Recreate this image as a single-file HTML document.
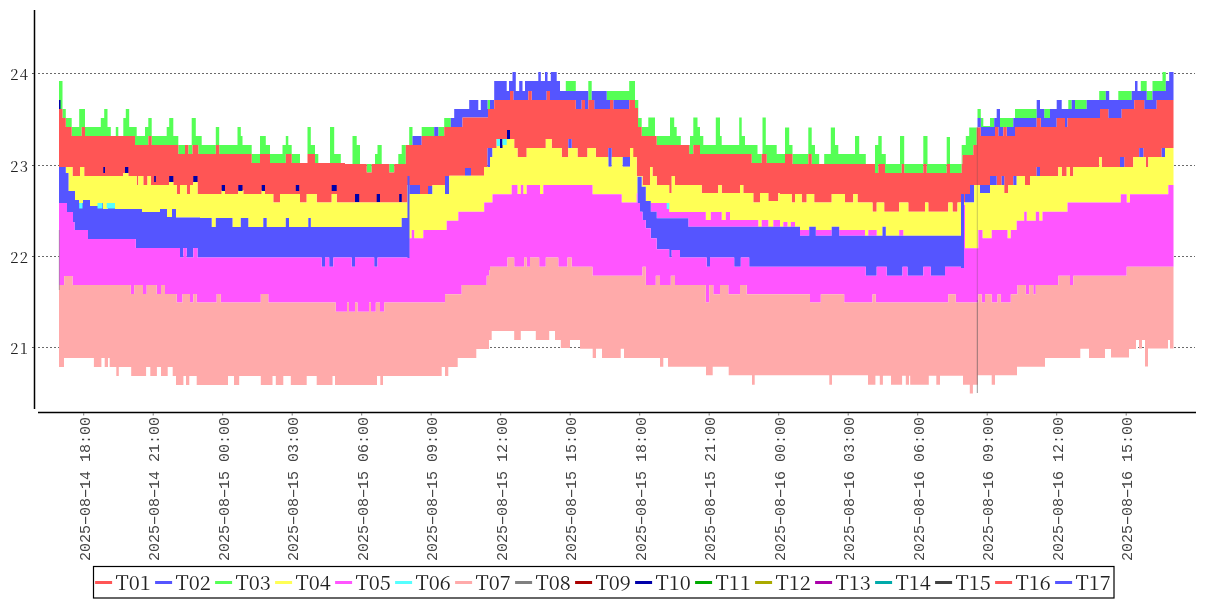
<!DOCTYPE html>
<html><head><meta charset="utf-8"><title>Temperature chart</title>
<style>
html,body{margin:0;padding:0;background:#fff;width:1207px;height:600px;overflow:hidden}
svg{position:absolute;left:0;top:0;display:block}
.yl{font-family:"Noto Serif CJK SC","Liberation Serif",serif;font-size:15px;letter-spacing:1.2px;fill:#222}
.xl{font-family:"Liberation Mono",monospace;font-size:15px;fill:#333}
.xh{position:absolute;transform-origin:0 0;transform:rotate(-90deg);font-family:"Liberation Mono",monospace;font-size:15px;line-height:15px;white-space:nowrap;color:#444}
.dd{display:inline-block;transform:scaleX(1.8)}
.lg{font-family:"Noto Serif CJK SC","Liberation Serif",serif;font-size:20px;fill:#222}
</style></head><body>
<svg width="1207" height="600" viewBox="0 0 1207 600">

<line x1="38" y1="73.5" x2="1195" y2="73.5" stroke="#6a6a6a" stroke-width="1" stroke-dasharray="2 2"/>
<line x1="38" y1="165.5" x2="1195" y2="165.5" stroke="#6a6a6a" stroke-width="1" stroke-dasharray="2 2"/>
<line x1="38" y1="256.5" x2="1195" y2="256.5" stroke="#6a6a6a" stroke-width="1" stroke-dasharray="2 2"/>
<line x1="38" y1="347.5" x2="1195" y2="347.5" stroke="#6a6a6a" stroke-width="1" stroke-dasharray="2 2"/>
<path d="M59.0,81.0 L62.5,81.0 L62.5,109.0 L65.8,109.0 L65.8,118.0 L71.7,118.0 L71.7,127.0 L79.2,127.0 L79.2,109.0 L85.0,109.0 L85.0,127.0 L100.8,127.0 L100.8,118.0 L104.2,118.0 L104.2,109.0 L107.5,109.0 L107.5,127.0 L110.8,127.0 L110.8,136.0 L115.8,136.0 L115.8,127.0 L118.3,127.0 L118.3,136.0 L123.3,136.0 L123.3,118.0 L125.8,118.0 L125.8,109.0 L129.2,109.0 L129.2,127.0 L136.7,127.0 L136.7,136.0 L145.0,136.0 L145.0,127.0 L148.3,127.0 L148.3,118.0 L151.7,118.0 L151.7,136.0 L166.7,136.0 L166.7,127.0 L169.2,127.0 L169.2,118.0 L173.3,118.0 L173.3,136.0 L178.3,136.0 L178.3,145.0 L191.7,145.0 L191.7,118.0 L195.8,118.0 L195.8,136.0 L201.7,136.0 L201.7,145.0 L215.8,145.0 L215.8,127.0 L219.2,127.0 L219.2,145.0 L237.5,145.0 L237.5,127.0 L240.8,127.0 L240.8,136.0 L242.5,136.0 L242.5,145.0 L251.7,145.0 L251.7,154.0 L260.0,154.0 L260.0,136.0 L265.8,136.0 L265.8,145.0 L270.0,145.0 L270.0,154.0 L282.5,154.0 L282.5,145.0 L285.8,145.0 L285.8,136.0 L288.3,136.0 L288.3,145.0 L291.7,145.0 L291.7,154.0 L300.0,154.0 L300.0,163.0 L307.5,163.0 L307.5,127.0 L310.8,127.0 L310.8,145.0 L315.0,145.0 L315.0,154.0 L318.3,154.0 L318.3,163.0 L330.0,163.0 L330.0,127.0 L334.2,127.0 L334.2,154.0 L340.8,154.0 L340.8,163.0 L345.0,163.0 L345.0,164.0 L352.5,164.0 L352.5,136.0 L356.7,136.0 L356.7,145.0 L360.0,145.0 L360.0,164.0 L375.0,164.0 L375.0,154.0 L377.5,154.0 L377.5,145.0 L381.7,145.0 L381.7,164.0 L398.3,164.0 L398.3,154.0 L401.7,154.0 L401.7,145.0 L409.2,145.0 L409.2,127.0 L412.5,127.0 L412.5,136.0 L421.7,136.0 L421.7,127.0 L444.2,127.0 L444.2,118.0 L454.2,118.0 L454.2,109.0 L469.2,109.0 L469.2,100.0 L478.3,100.0 L478.3,110.0 L480.8,110.0 L480.8,100.0 L494.2,100.0 L494.2,81.0 L506.7,81.0 L506.7,91.0 L509.0,91.0 L509.0,81.0 L512.5,81.0 L512.5,72.0 L515.8,72.0 L515.8,91.0 L519.2,91.0 L519.2,81.0 L522.5,81.0 L522.5,91.0 L525.0,91.0 L525.0,81.0 L538.3,81.0 L538.3,72.0 L540.8,72.0 L540.8,81.0 L545.0,81.0 L545.0,72.0 L547.5,72.0 L547.5,81.0 L550.8,81.0 L550.8,72.0 L556.7,72.0 L556.7,81.0 L560.0,81.0 L560.0,91.0 L565.8,91.0 L565.8,81.0 L575.8,81.0 L575.8,91.0 L588.3,91.0 L588.3,81.0 L591.7,81.0 L591.7,91.0 L629.2,91.0 L629.2,81.0 L635.0,81.0 L635.0,100.0 L638.3,100.0 L638.3,118.0 L641.7,118.0 L641.7,127.0 L648.3,127.0 L648.3,117.5 L655.0,117.5 L655.0,136.0 L670.0,136.0 L670.0,117.5 L674.2,117.5 L674.2,127.0 L676.7,127.0 L676.7,136.0 L680.8,136.0 L680.8,145.0 L690.0,145.0 L690.0,136.0 L693.3,136.0 L693.3,117.5 L697.5,117.5 L697.5,127.0 L700.0,127.0 L700.0,136.0 L703.3,136.0 L703.3,145.0 L715.8,145.0 L715.8,117.5 L720.0,117.5 L720.0,136.0 L721.7,136.0 L721.7,145.0 L739.2,145.0 L739.2,117.5 L741.7,117.5 L741.7,136.0 L745.0,136.0 L745.0,145.0 L757.5,145.0 L757.5,154.0 L762.5,154.0 L762.5,117.5 L765.8,117.5 L765.8,145.0 L776.7,145.0 L776.7,154.0 L785.0,154.0 L785.0,127.5 L789.2,127.5 L789.2,145.0 L792.5,145.0 L792.5,154.0 L808.3,154.0 L808.3,127.5 L811.7,127.5 L811.7,145.0 L815.0,145.0 L815.0,154.0 L819.2,154.0 L819.2,164.0 L824.2,164.0 L824.2,154.0 L830.8,154.0 L830.8,127.5 L835.0,127.5 L835.0,145.0 L838.3,145.0 L838.3,154.0 L855.0,154.0 L855.0,136.0 L859.2,136.0 L859.2,154.0 L865.8,154.0 L865.8,164.0 L875.0,164.0 L875.0,145.0 L878.3,145.0 L878.3,136.0 L881.7,136.0 L881.7,154.0 L885.8,154.0 L885.8,164.0 L900.0,164.0 L900.0,136.0 L904.2,136.0 L904.2,164.0 L923.3,164.0 L923.3,136.0 L927.5,136.0 L927.5,164.0 L946.7,164.0 L946.7,137.0 L950.0,137.0 L950.0,164.0 L961.7,164.0 L961.7,145.0 L965.8,145.0 L965.8,136.0 L969.2,136.0 L969.2,127.5 L977.5,127.5 L977.5,109.0 L980.8,109.0 L980.8,118.0 L983.3,118.0 L983.3,126.0 L990.0,126.0 L990.0,118.0 L996.7,118.0 L996.7,109.0 L1000.0,109.0 L1000.0,118.0 L1015.0,118.0 L1015.0,109.0 L1036.7,109.0 L1036.7,100.0 L1040.0,100.0 L1040.0,109.0 L1056.7,109.0 L1056.7,100.0 L1061.7,100.0 L1061.7,109.0 L1068.3,109.0 L1068.3,100.0 L1099.2,100.0 L1099.2,91.0 L1109.2,91.0 L1109.2,100.0 L1118.3,100.0 L1118.3,91.0 L1135.0,91.0 L1135.0,81.0 L1137.5,81.0 L1137.5,91.0 L1140.8,91.0 L1140.8,81.0 L1146.7,81.0 L1146.7,91.0 L1152.5,91.0 L1152.5,81.0 L1162.5,81.0 L1162.5,72.0 L1165.8,72.0 L1165.8,81.0 L1169.2,81.0 L1169.2,72.0 L1173.5,72.0 L1173.5,72.0 L1169.2,72.0 L1169.2,81.0 L1165.8,81.0 L1165.8,91.0 L1152.5,91.0 L1152.5,100.0 L1146.7,100.0 L1146.7,91.0 L1137.5,91.0 L1137.5,81.0 L1135.0,81.0 L1135.0,91.0 L1131.7,91.0 L1131.7,100.0 L1109.2,100.0 L1109.2,91.0 L1105.8,91.0 L1105.8,100.0 L1086.7,100.0 L1086.7,109.0 L1075.0,109.0 L1075.0,100.0 L1071.7,100.0 L1071.7,109.0 L1061.7,109.0 L1061.7,100.0 L1056.7,100.0 L1056.7,109.0 L1050.0,109.0 L1050.0,118.0 L1044.2,118.0 L1044.2,109.0 L1040.0,109.0 L1040.0,100.0 L1036.7,100.0 L1036.7,118.0 L1013.3,118.0 L1013.3,127.0 L1000.0,127.0 L1000.0,109.0 L996.7,109.0 L996.7,118.0 L994.2,118.0 L994.2,127.0 L980.8,127.0 L980.8,118.0 L977.5,118.0 L977.5,127.5 L976.7,127.5 L976.7,145.0 L973.3,145.0 L973.3,155.0 L962.5,155.0 L962.5,164.0 L961.7,164.0 L961.7,173.0 L950.0,173.0 L950.0,164.0 L946.7,164.0 L946.7,173.0 L926.7,173.0 L926.7,164.0 L923.3,164.0 L923.3,173.0 L904.2,173.0 L904.2,164.0 L901.7,164.0 L901.7,173.0 L885.0,173.0 L885.0,164.0 L878.3,164.0 L878.3,173.0 L875.0,173.0 L875.0,164.0 L811.7,164.0 L811.7,154.0 L808.3,154.0 L808.3,164.0 L792.5,164.0 L792.5,154.0 L785.0,154.0 L785.0,163.0 L766.7,163.0 L766.7,154.0 L761.7,154.0 L761.7,163.0 L751.7,163.0 L751.7,154.0 L700.0,154.0 L700.0,145.0 L693.3,145.0 L693.3,154.0 L689.2,154.0 L689.2,145.0 L656.7,145.0 L656.7,136.0 L641.7,136.0 L641.7,127.0 L638.0,127.0 L638.0,108.0 L635.0,108.0 L635.0,100.0 L606.7,100.0 L606.7,91.0 L591.7,91.0 L591.7,100.0 L588.3,100.0 L588.3,91.0 L560.0,91.0 L560.0,81.0 L556.7,81.0 L556.7,72.0 L550.8,72.0 L550.8,81.0 L547.5,81.0 L547.5,72.0 L545.0,72.0 L545.0,81.0 L540.8,81.0 L540.8,72.0 L538.3,72.0 L538.3,81.0 L525.0,81.0 L525.0,91.0 L522.5,91.0 L522.5,81.0 L519.2,81.0 L519.2,91.0 L515.8,91.0 L515.8,72.0 L512.5,72.0 L512.5,81.0 L509.0,81.0 L509.0,91.0 L506.7,91.0 L506.7,81.0 L494.2,81.0 L494.2,100.0 L490.0,100.0 L490.0,109.0 L487.5,109.0 L487.5,100.0 L480.8,100.0 L480.8,110.0 L478.3,110.0 L478.3,100.0 L469.2,100.0 L469.2,109.0 L454.2,109.0 L454.2,118.0 L450.8,118.0 L450.8,127.0 L444.2,127.0 L444.2,136.0 L438.3,136.0 L438.3,127.0 L434.2,127.0 L434.2,136.0 L412.5,136.0 L412.5,145.0 L405.8,145.0 L405.8,164.0 L394.2,164.0 L394.2,172.5 L389.2,172.5 L389.2,164.0 L371.7,164.0 L371.7,172.5 L366.7,172.5 L366.7,164.0 L345.0,164.0 L345.0,163.0 L315.0,163.0 L315.0,154.0 L307.5,154.0 L307.5,163.0 L291.7,163.0 L291.7,154.0 L285.8,154.0 L285.8,163.0 L270.0,163.0 L270.0,154.0 L260.0,154.0 L260.0,163.0 L251.7,163.0 L251.7,154.0 L219.2,154.0 L219.2,145.0 L215.8,145.0 L215.8,154.0 L198.3,154.0 L198.3,145.0 L192.5,145.0 L192.5,154.0 L188.3,154.0 L188.3,145.0 L185.0,145.0 L185.0,154.0 L178.3,154.0 L178.3,145.0 L151.7,145.0 L151.7,136.0 L148.3,136.0 L148.3,145.0 L135.0,145.0 L135.0,136.0 L85.0,136.0 L85.0,127.0 L81.7,127.0 L81.7,136.0 L71.7,136.0 L71.7,127.0 L65.8,127.0 L65.8,118.0 L62.5,118.0 L62.5,109.0 L59.0,109.0Z" fill="#55FF55"/>
<path d="M59.0,109.0 L62.5,109.0 L62.5,118.0 L65.8,118.0 L65.8,127.0 L71.7,127.0 L71.7,136.0 L81.7,136.0 L81.7,127.0 L85.0,127.0 L85.0,136.0 L135.0,136.0 L135.0,145.0 L148.3,145.0 L148.3,136.0 L151.7,136.0 L151.7,145.0 L178.3,145.0 L178.3,154.0 L185.0,154.0 L185.0,145.0 L188.3,145.0 L188.3,154.0 L192.5,154.0 L192.5,145.0 L198.3,145.0 L198.3,154.0 L215.8,154.0 L215.8,145.0 L219.2,145.0 L219.2,154.0 L251.7,154.0 L251.7,163.0 L260.0,163.0 L260.0,154.0 L270.0,154.0 L270.0,163.0 L285.8,163.0 L285.8,154.0 L291.7,154.0 L291.7,163.0 L307.5,163.0 L307.5,154.0 L315.0,154.0 L315.0,163.0 L345.0,163.0 L345.0,164.0 L366.7,164.0 L366.7,172.5 L371.7,172.5 L371.7,164.0 L389.2,164.0 L389.2,172.5 L394.2,172.5 L394.2,164.0 L405.8,164.0 L405.8,145.0 L412.5,145.0 L412.5,136.0 L434.2,136.0 L434.2,127.0 L438.3,127.0 L438.3,136.0 L444.2,136.0 L444.2,127.0 L450.8,127.0 L450.8,118.0 L454.2,118.0 L454.2,109.0 L469.2,109.0 L469.2,100.0 L478.3,100.0 L478.3,110.0 L480.8,110.0 L480.8,100.0 L487.5,100.0 L487.5,109.0 L490.0,109.0 L490.0,100.0 L494.2,100.0 L494.2,81.0 L506.7,81.0 L506.7,91.0 L509.0,91.0 L509.0,81.0 L512.5,81.0 L512.5,72.0 L515.8,72.0 L515.8,91.0 L519.2,91.0 L519.2,81.0 L522.5,81.0 L522.5,91.0 L525.0,91.0 L525.0,81.0 L538.3,81.0 L538.3,72.0 L540.8,72.0 L540.8,81.0 L545.0,81.0 L545.0,72.0 L547.5,72.0 L547.5,81.0 L550.8,81.0 L550.8,72.0 L556.7,72.0 L556.7,81.0 L560.0,81.0 L560.0,91.0 L588.3,91.0 L588.3,100.0 L591.7,100.0 L591.7,91.0 L606.7,91.0 L606.7,100.0 L635.0,100.0 L635.0,108.0 L638.0,108.0 L638.0,127.0 L641.7,127.0 L641.7,136.0 L656.7,136.0 L656.7,145.0 L689.2,145.0 L689.2,154.0 L693.3,154.0 L693.3,145.0 L700.0,145.0 L700.0,154.0 L751.7,154.0 L751.7,163.0 L761.7,163.0 L761.7,154.0 L766.7,154.0 L766.7,163.0 L785.0,163.0 L785.0,154.0 L792.5,154.0 L792.5,164.0 L808.3,164.0 L808.3,154.0 L811.7,154.0 L811.7,164.0 L875.0,164.0 L875.0,173.0 L878.3,173.0 L878.3,164.0 L885.0,164.0 L885.0,173.0 L901.7,173.0 L901.7,164.0 L904.2,164.0 L904.2,173.0 L923.3,173.0 L923.3,164.0 L926.7,164.0 L926.7,173.0 L946.7,173.0 L946.7,164.0 L950.0,164.0 L950.0,173.0 L961.7,173.0 L961.7,164.0 L962.5,164.0 L962.5,155.0 L973.3,155.0 L973.3,145.0 L976.7,145.0 L976.7,127.5 L977.5,127.5 L977.5,118.0 L980.8,118.0 L980.8,127.0 L994.2,127.0 L994.2,118.0 L996.7,118.0 L996.7,109.0 L1000.0,109.0 L1000.0,127.0 L1013.3,127.0 L1013.3,118.0 L1036.7,118.0 L1036.7,100.0 L1040.0,100.0 L1040.0,109.0 L1044.2,109.0 L1044.2,118.0 L1050.0,118.0 L1050.0,109.0 L1056.7,109.0 L1056.7,100.0 L1061.7,100.0 L1061.7,109.0 L1071.7,109.0 L1071.7,100.0 L1075.0,100.0 L1075.0,109.0 L1086.7,109.0 L1086.7,100.0 L1105.8,100.0 L1105.8,91.0 L1109.2,91.0 L1109.2,100.0 L1131.7,100.0 L1131.7,91.0 L1135.0,91.0 L1135.0,81.0 L1137.5,81.0 L1137.5,91.0 L1146.7,91.0 L1146.7,100.0 L1152.5,100.0 L1152.5,91.0 L1165.8,91.0 L1165.8,81.0 L1169.2,81.0 L1169.2,72.0 L1173.5,72.0 L1173.5,100.0 L1156.7,100.0 L1156.7,109.0 L1144.2,109.0 L1144.2,100.0 L1134.2,100.0 L1134.2,109.0 L1121.7,109.0 L1121.7,118.0 L1108.3,118.0 L1108.3,109.0 L1100.0,109.0 L1100.0,118.0 L1067.5,118.0 L1067.5,127.0 L1065.0,127.0 L1065.0,118.0 L1056.7,118.0 L1056.7,127.0 L1040.8,127.0 L1040.8,118.0 L1036.7,118.0 L1036.7,127.0 L1015.0,127.0 L1015.0,136.0 L1006.7,136.0 L1006.7,127.0 L1003.3,127.0 L1003.3,136.0 L998.3,136.0 L998.3,127.0 L995.0,127.0 L995.0,136.0 L980.8,136.0 L980.8,127.5 L976.7,127.5 L976.7,145.0 L973.3,145.0 L973.3,155.0 L962.5,155.0 L962.5,164.0 L961.7,164.0 L961.7,173.0 L950.0,173.0 L950.0,164.0 L946.7,164.0 L946.7,173.0 L926.7,173.0 L926.7,164.0 L923.3,164.0 L923.3,173.0 L904.2,173.0 L904.2,164.0 L901.7,164.0 L901.7,173.0 L885.0,173.0 L885.0,164.0 L878.3,164.0 L878.3,173.0 L875.0,173.0 L875.0,164.0 L811.7,164.0 L811.7,154.0 L808.3,154.0 L808.3,164.0 L792.5,164.0 L792.5,154.0 L785.0,154.0 L785.0,163.0 L766.7,163.0 L766.7,154.0 L761.7,154.0 L761.7,163.0 L751.7,163.0 L751.7,154.0 L700.0,154.0 L700.0,145.0 L693.3,145.0 L693.3,154.0 L689.2,154.0 L689.2,145.0 L656.7,145.0 L656.7,136.0 L641.7,136.0 L641.7,127.0 L638.0,127.0 L638.0,108.0 L635.0,108.0 L635.0,100.0 L629.2,100.0 L629.2,109.0 L613.3,109.0 L613.3,100.0 L610.0,100.0 L610.0,109.0 L594.2,109.0 L594.2,100.0 L588.3,100.0 L588.3,109.0 L585.0,109.0 L585.0,100.0 L581.7,100.0 L581.7,109.0 L575.8,109.0 L575.8,100.0 L550.0,100.0 L550.0,91.0 L546.7,91.0 L546.7,100.0 L531.7,100.0 L531.7,91.0 L528.3,91.0 L528.3,100.0 L513.3,100.0 L513.3,91.0 L510.0,91.0 L510.0,100.0 L494.2,100.0 L494.2,109.0 L488.0,109.0 L488.0,117.5 L462.5,117.5 L462.5,127.0 L444.2,127.0 L444.2,136.0 L421.7,136.0 L421.7,145.0 L405.8,145.0 L405.8,164.0 L394.2,164.0 L394.2,172.5 L389.2,172.5 L389.2,164.0 L371.7,164.0 L371.7,172.5 L366.7,172.5 L366.7,164.0 L345.0,164.0 L345.0,163.0 L315.0,163.0 L315.0,154.0 L307.5,154.0 L307.5,163.0 L291.7,163.0 L291.7,154.0 L285.8,154.0 L285.8,163.0 L270.0,163.0 L270.0,154.0 L260.0,154.0 L260.0,163.0 L251.7,163.0 L251.7,154.0 L219.2,154.0 L219.2,145.0 L215.8,145.0 L215.8,154.0 L198.3,154.0 L198.3,145.0 L192.5,145.0 L192.5,154.0 L188.3,154.0 L188.3,145.0 L185.0,145.0 L185.0,154.0 L178.3,154.0 L178.3,145.0 L151.7,145.0 L151.7,136.0 L148.3,136.0 L148.3,145.0 L135.0,145.0 L135.0,136.0 L85.0,136.0 L85.0,127.0 L81.7,127.0 L81.7,136.0 L71.7,136.0 L71.7,127.0 L65.8,127.0 L65.8,118.0 L62.5,118.0 L62.5,109.0 L59.0,109.0Z" fill="#5555FF"/>
<path d="M59.0,109.0 L62.5,109.0 L62.5,118.0 L65.8,118.0 L65.8,127.0 L71.7,127.0 L71.7,136.0 L81.7,136.0 L81.7,127.0 L85.0,127.0 L85.0,136.0 L135.0,136.0 L135.0,145.0 L148.3,145.0 L148.3,136.0 L151.7,136.0 L151.7,145.0 L178.3,145.0 L178.3,154.0 L185.0,154.0 L185.0,145.0 L188.3,145.0 L188.3,154.0 L192.5,154.0 L192.5,145.0 L198.3,145.0 L198.3,154.0 L215.8,154.0 L215.8,145.0 L219.2,145.0 L219.2,154.0 L251.7,154.0 L251.7,163.0 L260.0,163.0 L260.0,154.0 L270.0,154.0 L270.0,163.0 L285.8,163.0 L285.8,154.0 L291.7,154.0 L291.7,163.0 L307.5,163.0 L307.5,154.0 L315.0,154.0 L315.0,163.0 L345.0,163.0 L345.0,164.0 L366.7,164.0 L366.7,172.5 L371.7,172.5 L371.7,164.0 L389.2,164.0 L389.2,172.5 L394.2,172.5 L394.2,164.0 L405.8,164.0 L405.8,145.0 L421.7,145.0 L421.7,136.0 L444.2,136.0 L444.2,127.0 L462.5,127.0 L462.5,117.5 L488.0,117.5 L488.0,109.0 L494.2,109.0 L494.2,100.0 L510.0,100.0 L510.0,91.0 L513.3,91.0 L513.3,100.0 L528.3,100.0 L528.3,91.0 L531.7,91.0 L531.7,100.0 L546.7,100.0 L546.7,91.0 L550.0,91.0 L550.0,100.0 L575.8,100.0 L575.8,109.0 L581.7,109.0 L581.7,100.0 L585.0,100.0 L585.0,109.0 L588.3,109.0 L588.3,100.0 L594.2,100.0 L594.2,109.0 L610.0,109.0 L610.0,100.0 L613.3,100.0 L613.3,109.0 L629.2,109.0 L629.2,100.0 L635.0,100.0 L635.0,108.0 L638.0,108.0 L638.0,127.0 L641.7,127.0 L641.7,136.0 L656.7,136.0 L656.7,145.0 L689.2,145.0 L689.2,154.0 L693.3,154.0 L693.3,145.0 L700.0,145.0 L700.0,154.0 L751.7,154.0 L751.7,163.0 L761.7,163.0 L761.7,154.0 L766.7,154.0 L766.7,163.0 L785.0,163.0 L785.0,154.0 L792.5,154.0 L792.5,164.0 L808.3,164.0 L808.3,154.0 L811.7,154.0 L811.7,164.0 L875.0,164.0 L875.0,173.0 L878.3,173.0 L878.3,164.0 L885.0,164.0 L885.0,173.0 L901.7,173.0 L901.7,164.0 L904.2,164.0 L904.2,173.0 L923.3,173.0 L923.3,164.0 L926.7,164.0 L926.7,173.0 L946.7,173.0 L946.7,164.0 L950.0,164.0 L950.0,173.0 L961.7,173.0 L961.7,164.0 L962.5,164.0 L962.5,155.0 L973.3,155.0 L973.3,145.0 L976.7,145.0 L976.7,127.5 L980.8,127.5 L980.8,136.0 L995.0,136.0 L995.0,127.0 L998.3,127.0 L998.3,136.0 L1003.3,136.0 L1003.3,127.0 L1006.7,127.0 L1006.7,136.0 L1015.0,136.0 L1015.0,127.0 L1036.7,127.0 L1036.7,118.0 L1040.8,118.0 L1040.8,127.0 L1056.7,127.0 L1056.7,118.0 L1065.0,118.0 L1065.0,127.0 L1067.5,127.0 L1067.5,118.0 L1100.0,118.0 L1100.0,109.0 L1108.3,109.0 L1108.3,118.0 L1121.7,118.0 L1121.7,109.0 L1134.2,109.0 L1134.2,100.0 L1144.2,100.0 L1144.2,109.0 L1156.7,109.0 L1156.7,100.0 L1173.5,100.0 L1173.5,148.0 L1161.7,148.0 L1161.7,157.0 L1148.3,157.0 L1148.3,167.0 L1145.8,167.0 L1145.8,157.0 L1143.3,157.0 L1143.3,148.0 L1139.2,148.0 L1139.2,157.0 L1133.3,157.0 L1133.3,167.0 L1124.2,167.0 L1124.2,157.0 L1120.0,157.0 L1120.0,167.0 L1101.7,167.0 L1101.7,157.0 L1099.2,157.0 L1099.2,167.0 L1073.3,167.0 L1073.3,176.0 L1070.0,176.0 L1070.0,167.0 L1066.7,167.0 L1066.7,176.0 L1061.7,176.0 L1061.7,167.0 L1058.3,167.0 L1058.3,176.0 L1040.0,176.0 L1040.0,167.0 L1036.7,167.0 L1036.7,176.0 L1030.0,176.0 L1030.0,185.0 L1025.0,185.0 L1025.0,176.0 L1013.3,176.0 L1013.3,185.0 L1008.3,185.0 L1008.3,193.0 L1004.2,193.0 L1004.2,176.0 L1001.7,176.0 L1001.7,185.0 L996.7,185.0 L996.7,176.0 L990.0,176.0 L990.0,185.0 L970.0,185.0 L970.0,194.0 L965.0,194.0 L965.0,202.5 L957.5,202.5 L957.5,211.7 L952.5,211.7 L952.5,202.5 L948.3,202.5 L948.3,211.7 L928.3,211.7 L928.3,202.5 L925.0,202.5 L925.0,211.7 L908.3,211.7 L908.3,202.5 L899.2,202.5 L899.2,211.7 L884.2,211.7 L884.2,202.5 L876.7,202.5 L876.7,211.7 L872.5,211.7 L872.5,202.5 L857.5,202.5 L857.5,194.0 L853.3,194.0 L853.3,202.5 L845.0,202.5 L845.0,194.0 L831.7,194.0 L831.7,202.5 L814.2,202.5 L814.2,194.0 L806.7,194.0 L806.7,202.5 L801.7,202.5 L801.7,194.0 L795.0,194.0 L795.0,202.5 L791.7,202.5 L791.7,194.0 L780.0,194.0 L780.0,193.0 L778.3,193.0 L778.3,201.0 L768.3,201.0 L768.3,193.0 L760.0,193.0 L760.0,202.5 L753.3,202.5 L753.3,193.0 L743.3,193.0 L743.3,185.0 L740.0,185.0 L740.0,193.0 L721.7,193.0 L721.7,185.0 L718.3,185.0 L718.3,193.0 L701.7,193.0 L701.7,185.0 L675.0,185.0 L675.0,176.0 L671.7,176.0 L671.7,193.0 L669.2,193.0 L669.2,185.0 L656.7,185.0 L656.7,176.0 L652.5,176.0 L652.5,167.0 L650.0,167.0 L650.0,185.0 L642.5,185.0 L642.5,176.0 L636.7,176.0 L636.7,157.0 L611.7,157.0 L611.7,148.0 L608.3,148.0 L608.3,157.0 L595.8,157.0 L595.8,148.0 L587.5,148.0 L587.5,157.0 L577.5,157.0 L577.5,148.0 L571.7,148.0 L571.7,139.0 L568.3,139.0 L568.3,157.0 L561.7,157.0 L561.7,148.0 L551.7,148.0 L551.7,139.0 L545.8,139.0 L545.8,148.0 L526.7,148.0 L526.7,157.0 L517.5,157.0 L517.5,148.0 L514.2,148.0 L514.2,139.0 L496.7,139.0 L496.7,148.0 L487.5,148.0 L487.5,167.0 L484.0,167.0 L484.0,175.8 L471.0,175.8 L471.0,168.0 L465.0,168.0 L465.0,175.8 L449.2,175.8 L449.2,176.0 L445.0,176.0 L445.0,185.0 L432.5,185.0 L432.5,186.0 L428.0,186.0 L428.0,194.0 L420.0,194.0 L420.0,185.0 L407.5,185.0 L407.5,202.5 L336.7,202.5 L336.7,194.0 L331.7,194.0 L331.7,202.5 L316.7,202.5 L316.7,194.0 L306.7,194.0 L306.7,202.5 L300.0,202.5 L300.0,194.0 L280.0,194.0 L280.0,202.5 L273.3,202.5 L273.3,194.0 L265.0,194.0 L265.0,190.0 L261.7,190.0 L261.7,194.0 L243.3,194.0 L243.3,190.0 L238.3,190.0 L238.3,194.0 L225.0,194.0 L225.0,190.0 L221.7,190.0 L221.7,194.0 L197.5,194.0 L197.5,182.0 L193.3,182.0 L193.3,185.0 L190.0,185.0 L190.0,194.0 L186.7,194.0 L186.7,185.0 L180.0,185.0 L180.0,194.0 L176.7,194.0 L176.7,185.0 L173.3,185.0 L173.3,182.0 L169.2,182.0 L169.2,185.0 L150.8,185.0 L150.8,176.0 L147.5,176.0 L147.5,185.0 L143.3,185.0 L143.3,176.0 L138.3,176.0 L138.3,185.0 L136.7,185.0 L136.7,176.0 L128.3,176.0 L128.3,173.0 L123.3,173.0 L123.3,176.0 L84.2,176.0 L84.2,167.0 L80.0,167.0 L80.0,176.0 L72.5,176.0 L72.5,167.0 L59.0,167.0Z" fill="#FF5555"/>
<path d="M59.0,167.0 L72.5,167.0 L72.5,176.0 L80.0,176.0 L80.0,167.0 L84.2,167.0 L84.2,176.0 L123.3,176.0 L123.3,173.0 L128.3,173.0 L128.3,176.0 L136.7,176.0 L136.7,185.0 L138.3,185.0 L138.3,176.0 L143.3,176.0 L143.3,185.0 L147.5,185.0 L147.5,176.0 L150.8,176.0 L150.8,185.0 L169.2,185.0 L169.2,182.0 L173.3,182.0 L173.3,185.0 L176.7,185.0 L176.7,194.0 L180.0,194.0 L180.0,185.0 L186.7,185.0 L186.7,194.0 L190.0,194.0 L190.0,185.0 L193.3,185.0 L193.3,182.0 L197.5,182.0 L197.5,194.0 L221.7,194.0 L221.7,190.0 L225.0,190.0 L225.0,194.0 L238.3,194.0 L238.3,190.0 L243.3,190.0 L243.3,194.0 L261.7,194.0 L261.7,190.0 L265.0,190.0 L265.0,194.0 L273.3,194.0 L273.3,202.5 L280.0,202.5 L280.0,194.0 L300.0,194.0 L300.0,202.5 L306.7,202.5 L306.7,194.0 L316.7,194.0 L316.7,202.5 L331.7,202.5 L331.7,194.0 L336.7,194.0 L336.7,202.5 L407.5,202.5 L407.5,185.0 L420.0,185.0 L420.0,194.0 L428.0,194.0 L428.0,186.0 L432.5,186.0 L432.5,185.0 L445.0,185.0 L445.0,176.0 L449.2,176.0 L449.2,175.8 L465.0,175.8 L465.0,168.0 L471.0,168.0 L471.0,175.8 L484.0,175.8 L484.0,167.0 L487.5,167.0 L487.5,148.0 L496.7,148.0 L496.7,139.0 L514.2,139.0 L514.2,148.0 L517.5,148.0 L517.5,157.0 L526.7,157.0 L526.7,148.0 L545.8,148.0 L545.8,139.0 L551.7,139.0 L551.7,148.0 L561.7,148.0 L561.7,157.0 L568.3,157.0 L568.3,139.0 L571.7,139.0 L571.7,148.0 L577.5,148.0 L577.5,157.0 L587.5,157.0 L587.5,148.0 L595.8,148.0 L595.8,157.0 L608.3,157.0 L608.3,148.0 L611.7,148.0 L611.7,157.0 L636.7,157.0 L636.7,176.0 L642.5,176.0 L642.5,185.0 L650.0,185.0 L650.0,167.0 L652.5,167.0 L652.5,176.0 L656.7,176.0 L656.7,185.0 L669.2,185.0 L669.2,193.0 L671.7,193.0 L671.7,176.0 L675.0,176.0 L675.0,185.0 L701.7,185.0 L701.7,193.0 L718.3,193.0 L718.3,185.0 L721.7,185.0 L721.7,193.0 L740.0,193.0 L740.0,185.0 L743.3,185.0 L743.3,193.0 L753.3,193.0 L753.3,202.5 L760.0,202.5 L760.0,193.0 L768.3,193.0 L768.3,201.0 L778.3,201.0 L778.3,193.0 L780.0,193.0 L780.0,194.0 L791.7,194.0 L791.7,202.5 L795.0,202.5 L795.0,194.0 L801.7,194.0 L801.7,202.5 L806.7,202.5 L806.7,194.0 L814.2,194.0 L814.2,202.5 L831.7,202.5 L831.7,194.0 L845.0,194.0 L845.0,202.5 L853.3,202.5 L853.3,194.0 L857.5,194.0 L857.5,202.5 L872.5,202.5 L872.5,211.7 L876.7,211.7 L876.7,202.5 L884.2,202.5 L884.2,211.7 L899.2,211.7 L899.2,202.5 L908.3,202.5 L908.3,211.7 L925.0,211.7 L925.0,202.5 L928.3,202.5 L928.3,211.7 L948.3,211.7 L948.3,202.5 L952.5,202.5 L952.5,211.7 L957.5,211.7 L957.5,202.5 L965.0,202.5 L965.0,194.0 L970.0,194.0 L970.0,185.0 L990.0,185.0 L990.0,176.0 L996.7,176.0 L996.7,185.0 L1001.7,185.0 L1001.7,176.0 L1004.2,176.0 L1004.2,193.0 L1008.3,193.0 L1008.3,185.0 L1013.3,185.0 L1013.3,176.0 L1025.0,176.0 L1025.0,185.0 L1030.0,185.0 L1030.0,176.0 L1036.7,176.0 L1036.7,167.0 L1040.0,167.0 L1040.0,176.0 L1058.3,176.0 L1058.3,167.0 L1061.7,167.0 L1061.7,176.0 L1066.7,176.0 L1066.7,167.0 L1070.0,167.0 L1070.0,176.0 L1073.3,176.0 L1073.3,167.0 L1099.2,167.0 L1099.2,157.0 L1101.7,157.0 L1101.7,167.0 L1120.0,167.0 L1120.0,157.0 L1124.2,157.0 L1124.2,167.0 L1133.3,167.0 L1133.3,157.0 L1139.2,157.0 L1139.2,148.0 L1143.3,148.0 L1143.3,157.0 L1145.8,157.0 L1145.8,167.0 L1148.3,167.0 L1148.3,157.0 L1161.7,157.0 L1161.7,148.0 L1173.5,148.0 L1173.5,148.0 L1165.0,148.0 L1165.0,157.0 L1148.3,157.0 L1148.3,167.0 L1145.8,167.0 L1145.8,157.0 L1133.3,157.0 L1133.3,167.0 L1101.7,167.0 L1101.7,157.0 L1099.2,157.0 L1099.2,167.0 L1073.3,167.0 L1073.3,176.0 L1070.0,176.0 L1070.0,167.0 L1066.7,167.0 L1066.7,176.0 L1061.7,176.0 L1061.7,167.0 L1058.3,167.0 L1058.3,176.0 L1030.0,176.0 L1030.0,185.0 L1025.0,185.0 L1025.0,176.0 L1016.7,176.0 L1016.7,185.0 L1008.3,185.0 L1008.3,193.0 L1004.2,193.0 L1004.2,185.0 L990.0,185.0 L990.0,193.0 L980.0,193.0 L980.0,185.0 L974.2,185.0 L974.2,202.5 L957.5,202.5 L957.5,211.7 L952.5,211.7 L952.5,202.5 L948.3,202.5 L948.3,211.7 L928.3,211.7 L928.3,202.5 L925.0,202.5 L925.0,211.7 L908.3,211.7 L908.3,202.5 L899.2,202.5 L899.2,211.7 L884.2,211.7 L884.2,202.5 L876.7,202.5 L876.7,211.7 L872.5,211.7 L872.5,202.5 L857.5,202.5 L857.5,194.0 L853.3,194.0 L853.3,202.5 L845.0,202.5 L845.0,194.0 L831.7,194.0 L831.7,202.5 L814.2,202.5 L814.2,194.0 L806.7,194.0 L806.7,202.5 L801.7,202.5 L801.7,194.0 L795.0,194.0 L795.0,202.5 L791.7,202.5 L791.7,194.0 L780.0,194.0 L780.0,193.0 L778.3,193.0 L778.3,201.0 L768.3,201.0 L768.3,193.0 L760.0,193.0 L760.0,202.5 L753.3,202.5 L753.3,193.0 L743.3,193.0 L743.3,185.0 L740.0,185.0 L740.0,193.0 L721.7,193.0 L721.7,185.0 L718.3,185.0 L718.3,193.0 L701.7,193.0 L701.7,185.0 L675.0,185.0 L675.0,176.0 L671.7,176.0 L671.7,193.0 L669.2,193.0 L669.2,185.0 L656.7,185.0 L656.7,176.0 L652.5,176.0 L652.5,167.0 L650.0,167.0 L650.0,185.0 L642.5,185.0 L642.5,176.0 L636.7,176.0 L636.7,157.0 L630.0,157.0 L630.0,166.7 L622.5,166.7 L622.5,157.0 L611.7,157.0 L611.7,166.7 L608.3,166.7 L608.3,157.0 L595.8,157.0 L595.8,148.0 L587.5,148.0 L587.5,157.0 L577.5,157.0 L577.5,148.0 L568.3,148.0 L568.3,157.0 L561.7,157.0 L561.7,148.0 L551.7,148.0 L551.7,139.0 L545.8,139.0 L545.8,148.0 L526.7,148.0 L526.7,157.0 L517.5,157.0 L517.5,148.0 L514.2,148.0 L514.2,139.0 L496.7,139.0 L496.7,148.0 L492.5,148.0 L492.5,157.0 L490.0,157.0 L490.0,167.0 L484.0,167.0 L484.0,175.8 L449.2,175.8 L449.2,194.0 L445.0,194.0 L445.0,185.0 L432.5,185.0 L432.5,194.0 L409.2,194.0 L409.2,185.0 L407.5,185.0 L407.5,202.5 L336.7,202.5 L336.7,194.0 L331.7,194.0 L331.7,202.5 L316.7,202.5 L316.7,194.0 L306.7,194.0 L306.7,202.5 L300.0,202.5 L300.0,194.0 L280.0,194.0 L280.0,202.5 L273.3,202.5 L273.3,194.0 L265.0,194.0 L265.0,190.0 L261.7,190.0 L261.7,194.0 L243.3,194.0 L243.3,190.0 L238.3,190.0 L238.3,194.0 L225.0,194.0 L225.0,190.0 L221.7,190.0 L221.7,194.0 L197.5,194.0 L197.5,182.0 L193.3,182.0 L193.3,185.0 L190.0,185.0 L190.0,194.0 L186.7,194.0 L186.7,185.0 L180.0,185.0 L180.0,194.0 L176.7,194.0 L176.7,185.0 L173.3,185.0 L173.3,182.0 L169.2,182.0 L169.2,185.0 L150.8,185.0 L150.8,176.0 L147.5,176.0 L147.5,185.0 L143.3,185.0 L143.3,176.0 L138.3,176.0 L138.3,185.0 L136.7,185.0 L136.7,176.0 L128.3,176.0 L128.3,173.0 L123.3,173.0 L123.3,176.0 L84.2,176.0 L84.2,167.0 L80.0,167.0 L80.0,176.0 L72.5,176.0 L72.5,167.0 L59.0,167.0Z" fill="#5555FF"/>
<path d="M59.0,167.0 L72.5,167.0 L72.5,176.0 L80.0,176.0 L80.0,167.0 L84.2,167.0 L84.2,176.0 L123.3,176.0 L123.3,173.0 L128.3,173.0 L128.3,176.0 L136.7,176.0 L136.7,185.0 L138.3,185.0 L138.3,176.0 L143.3,176.0 L143.3,185.0 L147.5,185.0 L147.5,176.0 L150.8,176.0 L150.8,185.0 L169.2,185.0 L169.2,182.0 L173.3,182.0 L173.3,185.0 L176.7,185.0 L176.7,194.0 L180.0,194.0 L180.0,185.0 L186.7,185.0 L186.7,194.0 L190.0,194.0 L190.0,185.0 L193.3,185.0 L193.3,182.0 L197.5,182.0 L197.5,194.0 L221.7,194.0 L221.7,190.0 L225.0,190.0 L225.0,194.0 L238.3,194.0 L238.3,190.0 L243.3,190.0 L243.3,194.0 L261.7,194.0 L261.7,190.0 L265.0,190.0 L265.0,194.0 L273.3,194.0 L273.3,202.5 L280.0,202.5 L280.0,194.0 L300.0,194.0 L300.0,202.5 L306.7,202.5 L306.7,194.0 L316.7,194.0 L316.7,202.5 L331.7,202.5 L331.7,194.0 L336.7,194.0 L336.7,202.5 L407.5,202.5 L407.5,185.0 L409.2,185.0 L409.2,194.0 L432.5,194.0 L432.5,185.0 L445.0,185.0 L445.0,194.0 L449.2,194.0 L449.2,175.8 L484.0,175.8 L484.0,167.0 L490.0,167.0 L490.0,157.0 L492.5,157.0 L492.5,148.0 L496.7,148.0 L496.7,139.0 L514.2,139.0 L514.2,148.0 L517.5,148.0 L517.5,157.0 L526.7,157.0 L526.7,148.0 L545.8,148.0 L545.8,139.0 L551.7,139.0 L551.7,148.0 L561.7,148.0 L561.7,157.0 L568.3,157.0 L568.3,148.0 L577.5,148.0 L577.5,157.0 L587.5,157.0 L587.5,148.0 L595.8,148.0 L595.8,157.0 L608.3,157.0 L608.3,166.7 L611.7,166.7 L611.7,157.0 L622.5,157.0 L622.5,166.7 L630.0,166.7 L630.0,148.0 L633.3,148.0 L633.3,157.0 L636.7,157.0 L636.7,176.0 L642.5,176.0 L642.5,185.0 L650.0,185.0 L650.0,167.0 L652.5,167.0 L652.5,176.0 L656.7,176.0 L656.7,185.0 L669.2,185.0 L669.2,193.0 L671.7,193.0 L671.7,176.0 L675.0,176.0 L675.0,185.0 L701.7,185.0 L701.7,193.0 L718.3,193.0 L718.3,185.0 L721.7,185.0 L721.7,193.0 L740.0,193.0 L740.0,185.0 L743.3,185.0 L743.3,193.0 L753.3,193.0 L753.3,202.5 L760.0,202.5 L760.0,193.0 L768.3,193.0 L768.3,201.0 L778.3,201.0 L778.3,193.0 L780.0,193.0 L780.0,194.0 L791.7,194.0 L791.7,202.5 L795.0,202.5 L795.0,194.0 L801.7,194.0 L801.7,202.5 L806.7,202.5 L806.7,194.0 L814.2,194.0 L814.2,202.5 L831.7,202.5 L831.7,194.0 L845.0,194.0 L845.0,202.5 L853.3,202.5 L853.3,194.0 L857.5,194.0 L857.5,202.5 L872.5,202.5 L872.5,211.7 L876.7,211.7 L876.7,202.5 L884.2,202.5 L884.2,211.7 L899.2,211.7 L899.2,202.5 L908.3,202.5 L908.3,211.7 L925.0,211.7 L925.0,202.5 L928.3,202.5 L928.3,211.7 L948.3,211.7 L948.3,202.5 L952.5,202.5 L952.5,211.7 L957.5,211.7 L957.5,202.5 L974.2,202.5 L974.2,185.0 L980.0,185.0 L980.0,193.0 L990.0,193.0 L990.0,185.0 L1004.2,185.0 L1004.2,193.0 L1008.3,193.0 L1008.3,185.0 L1016.7,185.0 L1016.7,176.0 L1025.0,176.0 L1025.0,185.0 L1030.0,185.0 L1030.0,176.0 L1058.3,176.0 L1058.3,167.0 L1061.7,167.0 L1061.7,176.0 L1066.7,176.0 L1066.7,167.0 L1070.0,167.0 L1070.0,176.0 L1073.3,176.0 L1073.3,167.0 L1099.2,167.0 L1099.2,157.0 L1101.7,157.0 L1101.7,167.0 L1133.3,167.0 L1133.3,157.0 L1145.8,157.0 L1145.8,167.0 L1148.3,167.0 L1148.3,157.0 L1165.0,157.0 L1165.0,148.0 L1173.5,148.0 L1173.5,185.0 L1168.3,185.0 L1168.3,194.2 L1130.0,194.2 L1130.0,202.5 L1126.7,202.5 L1126.7,194.2 L1120.8,194.2 L1120.8,202.5 L1067.5,202.5 L1067.5,211.7 L1042.5,211.7 L1042.5,220.8 L1039.2,220.8 L1039.2,211.7 L1035.8,211.7 L1035.8,220.8 L1026.7,220.8 L1026.7,211.7 L1024.2,211.7 L1024.2,220.8 L1016.7,220.8 L1016.7,230.0 L1010.8,230.0 L1010.8,238.3 L1007.5,238.3 L1007.5,230.0 L991.7,230.0 L991.7,238.3 L982.5,238.3 L982.5,230.0 L978.3,230.0 L978.3,248.3 L965.0,248.3 L965.0,205.0 L961.0,205.0 L961.0,235.8 L903.3,235.8 L903.3,230.0 L899.2,230.0 L899.2,235.8 L885.8,235.8 L885.8,226.7 L882.5,226.7 L882.5,235.8 L876.7,235.8 L876.7,230.0 L868.3,230.0 L868.3,235.8 L865.0,235.8 L865.0,230.0 L839.2,230.0 L839.2,226.7 L831.7,226.7 L831.7,230.0 L815.8,230.0 L815.8,226.7 L809.2,226.7 L809.2,230.0 L800.0,230.0 L800.0,226.7 L795.0,226.7 L795.0,222.0 L790.8,222.0 L790.8,226.7 L787.5,226.7 L787.5,222.0 L783.3,222.0 L783.3,226.7 L780.0,226.7 L780.0,220.0 L773.3,220.0 L773.3,227.0 L768.3,227.0 L768.3,220.0 L761.7,220.0 L761.7,229.0 L758.3,229.0 L758.3,220.0 L730.0,220.0 L730.0,212.0 L725.8,212.0 L725.8,220.0 L721.7,220.0 L721.7,212.0 L710.8,212.0 L710.8,220.0 L705.8,220.0 L705.8,212.0 L669.2,212.0 L669.2,203.0 L650.8,203.0 L650.8,201.0 L645.8,201.0 L645.8,186.7 L641.7,186.7 L641.7,176.7 L637.5,176.7 L637.5,193.3 L636.7,193.3 L636.7,202.5 L621.7,202.5 L621.7,194.2 L592.5,194.2 L592.5,185.0 L543.3,185.0 L543.3,194.0 L540.0,194.0 L540.0,185.0 L526.7,185.0 L526.7,194.0 L523.3,194.0 L523.3,185.0 L520.8,185.0 L520.8,194.0 L517.5,194.0 L517.5,185.0 L511.7,185.0 L511.7,194.2 L492.5,194.2 L492.5,202.5 L484.2,202.5 L484.2,211.7 L458.3,211.7 L458.3,220.8 L446.7,220.8 L446.7,230.0 L423.3,230.0 L423.3,238.3 L414.2,238.3 L414.2,230.0 L411.7,230.0 L411.7,238.3 L409.2,238.3 L409.2,257.5 L408.3,257.5 L408.3,218.0 L401.7,218.0 L401.7,227.0 L310.8,227.0 L310.8,218.0 L308.3,218.0 L308.3,227.0 L289.0,227.0 L289.0,218.0 L285.8,218.0 L285.8,227.0 L266.7,227.0 L266.7,218.0 L263.3,218.0 L263.3,227.0 L248.3,227.0 L248.3,218.0 L240.8,218.0 L240.8,227.0 L232.5,227.0 L232.5,218.0 L215.8,218.0 L215.8,227.0 L211.7,227.0 L211.7,218.0 L200.0,218.0 L200.0,217.5 L176.0,217.5 L176.0,209.0 L172.0,209.0 L172.0,217.0 L167.0,217.0 L167.0,209.0 L160.0,209.0 L160.0,212.0 L142.0,212.0 L142.0,209.0 L115.0,209.0 L115.0,203.0 L108.0,203.0 L108.0,209.0 L103.0,209.0 L103.0,203.0 L98.0,203.0 L98.0,206.0 L90.0,206.0 L90.0,200.0 L83.0,200.0 L83.0,203.0 L79.0,203.0 L79.0,200.0 L75.0,200.0 L75.0,191.0 L68.5,191.0 L68.5,173.0 L65.8,173.0 L65.8,167.0 L59.0,167.0Z" fill="#FFFF55"/>
<path d="M59.0,167.0 L65.8,167.0 L65.8,173.0 L68.5,173.0 L68.5,191.0 L75.0,191.0 L75.0,200.0 L79.0,200.0 L79.0,203.0 L83.0,203.0 L83.0,200.0 L90.0,200.0 L90.0,206.0 L98.0,206.0 L98.0,203.0 L103.0,203.0 L103.0,209.0 L108.0,209.0 L108.0,203.0 L115.0,203.0 L115.0,209.0 L142.0,209.0 L142.0,212.0 L160.0,212.0 L160.0,209.0 L167.0,209.0 L167.0,217.0 L172.0,217.0 L172.0,209.0 L176.0,209.0 L176.0,217.5 L200.0,217.5 L200.0,218.0 L211.7,218.0 L211.7,227.0 L215.8,227.0 L215.8,218.0 L232.5,218.0 L232.5,227.0 L240.8,227.0 L240.8,218.0 L248.3,218.0 L248.3,227.0 L263.3,227.0 L263.3,218.0 L266.7,218.0 L266.7,227.0 L285.8,227.0 L285.8,218.0 L289.0,218.0 L289.0,227.0 L308.3,227.0 L308.3,218.0 L310.8,218.0 L310.8,227.0 L401.7,227.0 L401.7,218.0 L408.3,218.0 L408.3,257.5 L409.2,257.5 L409.2,238.3 L411.7,238.3 L411.7,230.0 L414.2,230.0 L414.2,238.3 L423.3,238.3 L423.3,230.0 L446.7,230.0 L446.7,220.8 L458.3,220.8 L458.3,211.7 L484.2,211.7 L484.2,202.5 L492.5,202.5 L492.5,194.2 L511.7,194.2 L511.7,185.0 L517.5,185.0 L517.5,194.0 L520.8,194.0 L520.8,185.0 L523.3,185.0 L523.3,194.0 L526.7,194.0 L526.7,185.0 L540.0,185.0 L540.0,194.0 L543.3,194.0 L543.3,185.0 L592.5,185.0 L592.5,194.2 L621.7,194.2 L621.7,202.5 L636.7,202.5 L636.7,193.3 L637.5,193.3 L637.5,176.7 L641.7,176.7 L641.7,186.7 L645.8,186.7 L645.8,201.0 L650.8,201.0 L650.8,203.0 L669.2,203.0 L669.2,212.0 L705.8,212.0 L705.8,220.0 L710.8,220.0 L710.8,212.0 L721.7,212.0 L721.7,220.0 L725.8,220.0 L725.8,212.0 L730.0,212.0 L730.0,220.0 L758.3,220.0 L758.3,229.0 L761.7,229.0 L761.7,220.0 L768.3,220.0 L768.3,227.0 L773.3,227.0 L773.3,220.0 L780.0,220.0 L780.0,226.7 L783.3,226.7 L783.3,222.0 L787.5,222.0 L787.5,226.7 L790.8,226.7 L790.8,222.0 L795.0,222.0 L795.0,226.7 L800.0,226.7 L800.0,230.0 L809.2,230.0 L809.2,226.7 L815.8,226.7 L815.8,230.0 L831.7,230.0 L831.7,226.7 L839.2,226.7 L839.2,230.0 L865.0,230.0 L865.0,235.8 L868.3,235.8 L868.3,230.0 L876.7,230.0 L876.7,235.8 L882.5,235.8 L882.5,226.7 L885.8,226.7 L885.8,235.8 L899.2,235.8 L899.2,230.0 L903.3,230.0 L903.3,235.8 L961.0,235.8 L961.0,205.0 L965.0,205.0 L965.0,248.3 L978.3,248.3 L978.3,230.0 L982.5,230.0 L982.5,238.3 L991.7,238.3 L991.7,230.0 L1007.5,230.0 L1007.5,238.3 L1010.8,238.3 L1010.8,230.0 L1016.7,230.0 L1016.7,220.8 L1024.2,220.8 L1024.2,211.7 L1026.7,211.7 L1026.7,220.8 L1035.8,220.8 L1035.8,211.7 L1039.2,211.7 L1039.2,220.8 L1042.5,220.8 L1042.5,211.7 L1067.5,211.7 L1067.5,202.5 L1120.8,202.5 L1120.8,194.2 L1126.7,194.2 L1126.7,202.5 L1130.0,202.5 L1130.0,194.2 L1168.3,194.2 L1168.3,185.0 L1173.5,185.0 L1173.5,185.0 L1168.3,185.0 L1168.3,194.2 L1130.0,194.2 L1130.0,202.5 L1126.7,202.5 L1126.7,194.2 L1120.8,194.2 L1120.8,202.5 L1067.5,202.5 L1067.5,211.7 L1042.5,211.7 L1042.5,220.8 L1039.2,220.8 L1039.2,211.7 L1035.8,211.7 L1035.8,220.8 L1026.7,220.8 L1026.7,211.7 L1024.2,211.7 L1024.2,220.8 L1016.7,220.8 L1016.7,230.0 L1010.8,230.0 L1010.8,238.3 L1007.5,238.3 L1007.5,230.0 L991.7,230.0 L991.7,238.3 L982.5,238.3 L982.5,230.0 L978.3,230.0 L978.3,248.3 L965.0,248.3 L965.0,205.0 L961.0,205.0 L961.0,235.8 L885.8,235.8 L885.8,226.7 L882.5,226.7 L882.5,235.8 L839.2,235.8 L839.2,226.7 L831.7,226.7 L831.7,235.8 L815.8,235.8 L815.8,226.7 L809.2,226.7 L809.2,235.8 L800.0,235.8 L800.0,226.7 L773.3,226.7 L773.3,227.0 L768.3,227.0 L768.3,226.7 L761.7,226.7 L761.7,229.0 L758.3,229.0 L758.3,226.7 L688.3,226.7 L688.3,218.3 L656.7,218.3 L656.7,211.7 L650.8,211.7 L650.8,201.0 L645.8,201.0 L645.8,186.7 L641.7,186.7 L641.7,176.7 L637.5,176.7 L637.5,193.3 L636.7,193.3 L636.7,202.5 L621.7,202.5 L621.7,194.2 L592.5,194.2 L592.5,185.0 L543.3,185.0 L543.3,194.0 L540.0,194.0 L540.0,185.0 L526.7,185.0 L526.7,194.0 L523.3,194.0 L523.3,185.0 L520.8,185.0 L520.8,194.0 L517.5,194.0 L517.5,185.0 L511.7,185.0 L511.7,194.2 L492.5,194.2 L492.5,202.5 L484.2,202.5 L484.2,211.7 L458.3,211.7 L458.3,220.8 L446.7,220.8 L446.7,230.0 L423.3,230.0 L423.3,238.3 L414.2,238.3 L414.2,230.0 L411.7,230.0 L411.7,238.3 L409.2,238.3 L409.2,257.5 L408.3,257.5 L408.3,218.0 L401.7,218.0 L401.7,227.0 L310.8,227.0 L310.8,218.0 L308.3,218.0 L308.3,227.0 L289.0,227.0 L289.0,218.0 L285.8,218.0 L285.8,227.0 L266.7,227.0 L266.7,218.0 L263.3,218.0 L263.3,227.0 L248.3,227.0 L248.3,218.0 L240.8,218.0 L240.8,227.0 L232.5,227.0 L232.5,218.0 L215.8,218.0 L215.8,227.0 L211.7,227.0 L211.7,218.0 L200.0,218.0 L200.0,217.5 L176.0,217.5 L176.0,209.0 L172.0,209.0 L172.0,217.0 L167.0,217.0 L167.0,209.0 L160.0,209.0 L160.0,212.0 L142.0,212.0 L142.0,209.0 L115.0,209.0 L115.0,203.0 L108.0,203.0 L108.0,209.0 L103.0,209.0 L103.0,203.0 L98.0,203.0 L98.0,206.0 L90.0,206.0 L90.0,200.0 L83.0,200.0 L83.0,203.0 L79.0,203.0 L79.0,200.0 L75.0,200.0 L75.0,191.0 L68.5,191.0 L68.5,173.0 L65.8,173.0 L65.8,167.0 L59.0,167.0Z" fill="#FF55FF"/>
<path d="M59.0,167.0 L65.8,167.0 L65.8,173.0 L68.5,173.0 L68.5,191.0 L75.0,191.0 L75.0,200.0 L79.0,200.0 L79.0,203.0 L83.0,203.0 L83.0,200.0 L90.0,200.0 L90.0,206.0 L98.0,206.0 L98.0,203.0 L103.0,203.0 L103.0,209.0 L108.0,209.0 L108.0,203.0 L115.0,203.0 L115.0,209.0 L142.0,209.0 L142.0,212.0 L160.0,212.0 L160.0,209.0 L167.0,209.0 L167.0,217.0 L172.0,217.0 L172.0,209.0 L176.0,209.0 L176.0,217.5 L200.0,217.5 L200.0,218.0 L211.7,218.0 L211.7,227.0 L215.8,227.0 L215.8,218.0 L232.5,218.0 L232.5,227.0 L240.8,227.0 L240.8,218.0 L248.3,218.0 L248.3,227.0 L263.3,227.0 L263.3,218.0 L266.7,218.0 L266.7,227.0 L285.8,227.0 L285.8,218.0 L289.0,218.0 L289.0,227.0 L308.3,227.0 L308.3,218.0 L310.8,218.0 L310.8,227.0 L401.7,227.0 L401.7,218.0 L408.3,218.0 L408.3,257.5 L409.2,257.5 L409.2,238.3 L411.7,238.3 L411.7,230.0 L414.2,230.0 L414.2,238.3 L423.3,238.3 L423.3,230.0 L446.7,230.0 L446.7,220.8 L458.3,220.8 L458.3,211.7 L484.2,211.7 L484.2,202.5 L492.5,202.5 L492.5,194.2 L511.7,194.2 L511.7,185.0 L517.5,185.0 L517.5,194.0 L520.8,194.0 L520.8,185.0 L523.3,185.0 L523.3,194.0 L526.7,194.0 L526.7,185.0 L540.0,185.0 L540.0,194.0 L543.3,194.0 L543.3,185.0 L592.5,185.0 L592.5,194.2 L621.7,194.2 L621.7,202.5 L636.7,202.5 L636.7,193.3 L637.5,193.3 L637.5,176.7 L641.7,176.7 L641.7,186.7 L645.8,186.7 L645.8,201.0 L650.8,201.0 L650.8,211.7 L656.7,211.7 L656.7,218.3 L688.3,218.3 L688.3,226.7 L800.0,226.7 L800.0,235.8 L809.2,235.8 L809.2,226.7 L815.8,226.7 L815.8,235.8 L831.7,235.8 L831.7,226.7 L839.2,226.7 L839.2,235.8 L882.5,235.8 L882.5,226.7 L885.8,226.7 L885.8,235.8 L961.0,235.8 L961.0,205.0 L965.0,205.0 L965.0,248.3 L978.3,248.3 L978.3,230.0 L982.5,230.0 L982.5,238.3 L991.7,238.3 L991.7,230.0 L1007.5,230.0 L1007.5,238.3 L1010.8,238.3 L1010.8,230.0 L1016.7,230.0 L1016.7,220.8 L1024.2,220.8 L1024.2,211.7 L1026.7,211.7 L1026.7,220.8 L1035.8,220.8 L1035.8,211.7 L1039.2,211.7 L1039.2,220.8 L1042.5,220.8 L1042.5,211.7 L1067.5,211.7 L1067.5,202.5 L1120.8,202.5 L1120.8,194.2 L1126.7,194.2 L1126.7,202.5 L1130.0,202.5 L1130.0,194.2 L1168.3,194.2 L1168.3,185.0 L1173.5,185.0 L1173.5,185.0 L1168.3,185.0 L1168.3,194.2 L1130.0,194.2 L1130.0,202.5 L1126.7,202.5 L1126.7,194.2 L1120.8,194.2 L1120.8,202.5 L1067.5,202.5 L1067.5,211.7 L1042.5,211.7 L1042.5,220.8 L1039.2,220.8 L1039.2,211.7 L1035.8,211.7 L1035.8,220.8 L1026.7,220.8 L1026.7,211.7 L1024.2,211.7 L1024.2,220.8 L1016.7,220.8 L1016.7,230.0 L1010.8,230.0 L1010.8,238.3 L1007.5,238.3 L1007.5,230.0 L991.7,230.0 L991.7,238.3 L982.5,238.3 L982.5,230.0 L978.3,230.0 L978.3,248.3 L965.0,248.3 L965.0,205.0 L961.0,205.0 L961.0,266.7 L945.0,266.7 L945.0,275.8 L930.8,275.8 L930.8,266.7 L923.3,266.7 L923.3,275.8 L907.5,275.8 L907.5,266.7 L902.5,266.7 L902.5,275.8 L886.7,275.8 L886.7,266.7 L876.7,266.7 L876.7,275.8 L865.8,275.8 L865.8,266.7 L749.2,266.7 L749.2,257.5 L740.8,257.5 L740.8,266.7 L734.2,266.7 L734.2,257.5 L710.0,257.5 L710.0,266.7 L706.7,266.7 L706.7,257.5 L680.0,257.5 L680.0,250.0 L671.7,250.0 L671.7,257.5 L669.2,257.5 L669.2,249.2 L656.7,249.2 L656.7,238.3 L650.8,238.3 L650.8,228.3 L645.8,228.3 L645.8,220.0 L642.5,220.0 L642.5,211.7 L640.0,211.7 L640.0,203.0 L637.5,203.0 L637.5,193.3 L636.7,193.3 L636.7,202.5 L621.7,202.5 L621.7,194.2 L592.5,194.2 L592.5,185.0 L543.3,185.0 L543.3,194.0 L540.0,194.0 L540.0,185.0 L526.7,185.0 L526.7,194.0 L523.3,194.0 L523.3,185.0 L520.8,185.0 L520.8,194.0 L517.5,194.0 L517.5,185.0 L511.7,185.0 L511.7,194.2 L492.5,194.2 L492.5,202.5 L484.2,202.5 L484.2,211.7 L458.3,211.7 L458.3,220.8 L446.7,220.8 L446.7,230.0 L423.3,230.0 L423.3,238.3 L414.2,238.3 L414.2,230.0 L411.7,230.0 L411.7,238.3 L409.2,238.3 L409.2,257.5 L377.5,257.5 L377.5,266.7 L374.2,266.7 L374.2,257.5 L355.0,257.5 L355.0,266.7 L351.7,266.7 L351.7,257.5 L333.3,257.5 L333.3,266.7 L329.2,266.7 L329.2,257.5 L325.0,257.5 L325.0,266.7 L321.7,266.7 L321.7,257.5 L197.5,257.5 L197.5,248.0 L193.3,248.0 L193.3,257.5 L186.7,257.5 L186.7,248.0 L183.3,248.0 L183.3,257.5 L180.0,257.5 L180.0,248.0 L135.8,248.0 L135.8,239.0 L88.0,239.0 L88.0,230.0 L74.5,230.0 L74.5,222.0 L73.0,222.0 L73.0,212.0 L67.0,212.0 L67.0,203.0 L59.0,203.0Z" fill="#5555FF"/>
<path d="M59.0,203.0 L67.0,203.0 L67.0,212.0 L73.0,212.0 L73.0,222.0 L74.5,222.0 L74.5,230.0 L88.0,230.0 L88.0,239.0 L135.8,239.0 L135.8,248.0 L180.0,248.0 L180.0,257.5 L183.3,257.5 L183.3,248.0 L186.7,248.0 L186.7,257.5 L193.3,257.5 L193.3,248.0 L197.5,248.0 L197.5,257.5 L321.7,257.5 L321.7,266.7 L325.0,266.7 L325.0,257.5 L329.2,257.5 L329.2,266.7 L333.3,266.7 L333.3,257.5 L351.7,257.5 L351.7,266.7 L355.0,266.7 L355.0,257.5 L374.2,257.5 L374.2,266.7 L377.5,266.7 L377.5,257.5 L409.2,257.5 L409.2,238.3 L411.7,238.3 L411.7,230.0 L414.2,230.0 L414.2,238.3 L423.3,238.3 L423.3,230.0 L446.7,230.0 L446.7,220.8 L458.3,220.8 L458.3,211.7 L484.2,211.7 L484.2,202.5 L492.5,202.5 L492.5,194.2 L511.7,194.2 L511.7,185.0 L517.5,185.0 L517.5,194.0 L520.8,194.0 L520.8,185.0 L523.3,185.0 L523.3,194.0 L526.7,194.0 L526.7,185.0 L540.0,185.0 L540.0,194.0 L543.3,194.0 L543.3,185.0 L592.5,185.0 L592.5,194.2 L621.7,194.2 L621.7,202.5 L636.7,202.5 L636.7,193.3 L637.5,193.3 L637.5,203.0 L640.0,203.0 L640.0,211.7 L642.5,211.7 L642.5,220.0 L645.8,220.0 L645.8,228.3 L650.8,228.3 L650.8,238.3 L656.7,238.3 L656.7,249.2 L669.2,249.2 L669.2,257.5 L671.7,257.5 L671.7,250.0 L680.0,250.0 L680.0,257.5 L706.7,257.5 L706.7,266.7 L710.0,266.7 L710.0,257.5 L734.2,257.5 L734.2,266.7 L740.8,266.7 L740.8,257.5 L749.2,257.5 L749.2,266.7 L865.8,266.7 L865.8,275.8 L876.7,275.8 L876.7,266.7 L886.7,266.7 L886.7,275.8 L902.5,275.8 L902.5,266.7 L907.5,266.7 L907.5,275.8 L923.3,275.8 L923.3,266.7 L930.8,266.7 L930.8,275.8 L945.0,275.8 L945.0,266.7 L961.0,266.7 L961.0,205.0 L965.0,205.0 L965.0,248.3 L978.3,248.3 L978.3,230.0 L982.5,230.0 L982.5,238.3 L991.7,238.3 L991.7,230.0 L1007.5,230.0 L1007.5,238.3 L1010.8,238.3 L1010.8,230.0 L1016.7,230.0 L1016.7,220.8 L1024.2,220.8 L1024.2,211.7 L1026.7,211.7 L1026.7,220.8 L1035.8,220.8 L1035.8,211.7 L1039.2,211.7 L1039.2,220.8 L1042.5,220.8 L1042.5,211.7 L1067.5,211.7 L1067.5,202.5 L1120.8,202.5 L1120.8,194.2 L1126.7,194.2 L1126.7,202.5 L1130.0,202.5 L1130.0,194.2 L1168.3,194.2 L1168.3,185.0 L1173.5,185.0 L1173.5,266.7 L1126.7,266.7 L1126.7,275.8 L1073.3,275.8 L1073.3,285.0 L1070.0,285.0 L1070.0,275.8 L1058.3,275.8 L1058.3,285.0 L1035.8,285.0 L1035.8,294.2 L1033.3,294.2 L1033.3,285.0 L1029.2,285.0 L1029.2,294.2 L1025.8,294.2 L1025.8,285.0 L1017.5,285.0 L1017.5,294.2 L1010.8,294.2 L1010.8,302.5 L1000.8,302.5 L1000.8,294.2 L997.5,294.2 L997.5,302.5 L991.7,302.5 L991.7,294.2 L985.0,294.2 L985.0,302.5 L981.7,302.5 L981.7,294.2 L978.3,294.2 L978.3,302.5 L955.8,302.5 L955.8,294.2 L948.3,294.2 L948.3,302.5 L875.8,302.5 L875.8,294.2 L872.5,294.2 L872.5,302.5 L844.2,302.5 L844.2,294.2 L820.8,294.2 L820.8,302.5 L810.0,302.5 L810.0,294.2 L746.7,294.2 L746.7,285.0 L740.0,285.0 L740.0,294.2 L728.3,294.2 L728.3,285.0 L720.0,285.0 L720.0,294.2 L713.3,294.2 L713.3,285.0 L709.2,285.0 L709.2,302.5 L705.8,302.5 L705.8,285.0 L675.0,285.0 L675.0,275.8 L670.8,275.8 L670.8,285.0 L660.0,285.0 L660.0,275.8 L655.8,275.8 L655.8,285.0 L645.8,285.0 L645.8,266.7 L642.5,266.7 L642.5,275.8 L592.5,275.8 L592.5,266.7 L571.7,266.7 L571.7,257.5 L567.5,257.5 L567.5,266.7 L558.3,266.7 L558.3,257.5 L545.8,257.5 L545.8,266.7 L539.2,266.7 L539.2,257.5 L530.0,257.5 L530.0,266.7 L526.7,266.7 L526.7,257.5 L524.2,257.5 L524.2,266.7 L514.2,266.7 L514.2,257.5 L507.5,257.5 L507.5,266.7 L490.0,266.7 L490.0,270.0 L489.2,270.0 L489.2,275.8 L486.7,275.8 L486.7,285.0 L461.7,285.0 L461.7,294.2 L445.0,294.2 L445.0,302.5 L384.2,302.5 L384.2,311.7 L380.0,311.7 L380.0,302.5 L375.8,302.5 L375.8,311.7 L371.0,311.7 L371.0,302.5 L369.0,302.5 L369.0,311.7 L357.5,311.7 L357.5,302.5 L355.0,302.5 L355.0,311.7 L349.0,311.7 L349.0,302.5 L347.0,302.5 L347.0,311.7 L335.8,311.7 L335.8,302.5 L268.3,302.5 L268.3,294.0 L260.8,294.0 L260.8,302.5 L220.8,302.5 L220.8,294.0 L216.7,294.0 L216.7,302.5 L196.7,302.5 L196.7,294.0 L193.3,294.0 L193.3,302.5 L190.0,302.5 L190.0,294.0 L182.5,294.0 L182.5,302.5 L176.7,302.5 L176.7,294.0 L165.0,294.0 L165.0,285.0 L161.0,285.0 L161.0,294.0 L156.7,294.0 L156.7,285.0 L146.7,285.0 L146.7,294.0 L143.0,294.0 L143.0,285.0 L134.2,285.0 L134.2,294.0 L130.8,294.0 L130.8,285.0 L72.5,285.0 L72.5,276.0 L64.2,276.0 L64.2,285.0 L59.0,285.0Z" fill="#FF55FF"/>
<path d="M59.0,285.0 L64.2,285.0 L64.2,276.0 L72.5,276.0 L72.5,285.0 L130.8,285.0 L130.8,294.0 L134.2,294.0 L134.2,285.0 L143.0,285.0 L143.0,294.0 L146.7,294.0 L146.7,285.0 L156.7,285.0 L156.7,294.0 L161.0,294.0 L161.0,285.0 L165.0,285.0 L165.0,294.0 L176.7,294.0 L176.7,302.5 L182.5,302.5 L182.5,294.0 L190.0,294.0 L190.0,302.5 L193.3,302.5 L193.3,294.0 L196.7,294.0 L196.7,302.5 L216.7,302.5 L216.7,294.0 L220.8,294.0 L220.8,302.5 L260.8,302.5 L260.8,294.0 L268.3,294.0 L268.3,302.5 L335.8,302.5 L335.8,311.7 L347.0,311.7 L347.0,302.5 L349.0,302.5 L349.0,311.7 L355.0,311.7 L355.0,302.5 L357.5,302.5 L357.5,311.7 L369.0,311.7 L369.0,302.5 L371.0,302.5 L371.0,311.7 L375.8,311.7 L375.8,302.5 L380.0,302.5 L380.0,311.7 L384.2,311.7 L384.2,302.5 L445.0,302.5 L445.0,294.2 L461.7,294.2 L461.7,285.0 L486.7,285.0 L486.7,275.8 L489.2,275.8 L489.2,270.0 L490.0,270.0 L490.0,266.7 L507.5,266.7 L507.5,257.5 L514.2,257.5 L514.2,266.7 L524.2,266.7 L524.2,257.5 L526.7,257.5 L526.7,266.7 L530.0,266.7 L530.0,257.5 L539.2,257.5 L539.2,266.7 L545.8,266.7 L545.8,257.5 L558.3,257.5 L558.3,266.7 L567.5,266.7 L567.5,257.5 L571.7,257.5 L571.7,266.7 L592.5,266.7 L592.5,275.8 L642.5,275.8 L642.5,266.7 L645.8,266.7 L645.8,285.0 L655.8,285.0 L655.8,275.8 L660.0,275.8 L660.0,285.0 L670.8,285.0 L670.8,275.8 L675.0,275.8 L675.0,285.0 L705.8,285.0 L705.8,302.5 L709.2,302.5 L709.2,285.0 L713.3,285.0 L713.3,294.2 L720.0,294.2 L720.0,285.0 L728.3,285.0 L728.3,294.2 L740.0,294.2 L740.0,285.0 L746.7,285.0 L746.7,294.2 L810.0,294.2 L810.0,302.5 L820.8,302.5 L820.8,294.2 L844.2,294.2 L844.2,302.5 L872.5,302.5 L872.5,294.2 L875.8,294.2 L875.8,302.5 L948.3,302.5 L948.3,294.2 L955.8,294.2 L955.8,302.5 L978.3,302.5 L978.3,294.2 L981.7,294.2 L981.7,302.5 L985.0,302.5 L985.0,294.2 L991.7,294.2 L991.7,302.5 L997.5,302.5 L997.5,294.2 L1000.8,294.2 L1000.8,302.5 L1010.8,302.5 L1010.8,294.2 L1017.5,294.2 L1017.5,285.0 L1025.8,285.0 L1025.8,294.2 L1029.2,294.2 L1029.2,285.0 L1033.3,285.0 L1033.3,294.2 L1035.8,294.2 L1035.8,285.0 L1058.3,285.0 L1058.3,275.8 L1070.0,275.8 L1070.0,285.0 L1073.3,285.0 L1073.3,275.8 L1126.7,275.8 L1126.7,266.7 L1173.5,266.7 L1173.5,348.5 L1170.0,348.5 L1170.0,340.0 L1168.0,340.0 L1168.0,348.5 L1148.0,348.5 L1148.0,366.5 L1145.0,366.5 L1145.0,340.0 L1142.0,340.0 L1142.0,348.5 L1139.0,348.5 L1139.0,340.0 L1136.0,340.0 L1136.0,349.0 L1129.0,349.0 L1129.0,357.5 L1111.0,357.5 L1111.0,349.0 L1105.0,349.0 L1105.0,358.0 L1089.0,358.0 L1089.0,348.7 L1080.3,348.7 L1080.3,358.0 L1045.0,358.0 L1045.0,366.7 L1017.0,366.7 L1017.0,375.3 L995.0,375.3 L995.0,384.7 L991.7,384.7 L991.7,375.3 L977.7,375.3 L977.7,384.7 L972.9,384.7 L972.9,393.4 L969.8,393.4 L969.8,384.7 L963.0,384.7 L963.0,375.8 L940.0,375.8 L940.0,384.7 L936.3,384.7 L936.3,375.8 L928.8,375.8 L928.8,384.7 L910.2,384.7 L910.2,375.8 L909.0,375.8 L909.0,384.7 L905.8,384.7 L905.8,375.8 L902.1,375.8 L902.1,384.7 L891.0,384.7 L891.0,375.8 L882.9,375.8 L882.9,384.7 L879.8,384.7 L879.8,375.8 L875.4,375.8 L875.4,384.7 L868.0,384.7 L868.0,375.3 L832.0,375.3 L832.0,384.7 L829.3,384.7 L829.3,375.3 L754.7,375.3 L754.7,384.7 L752.0,384.7 L752.0,375.3 L728.7,375.3 L728.7,366.7 L712.7,366.7 L712.7,375.3 L706.0,375.3 L706.0,366.7 L668.0,366.7 L668.0,358.0 L663.3,358.0 L663.3,366.7 L660.0,366.7 L660.0,358.0 L624.0,358.0 L624.0,348.7 L620.7,348.7 L620.7,358.0 L602.0,358.0 L602.0,348.7 L596.0,348.7 L596.0,358.0 L592.7,358.0 L592.7,348.7 L580.0,348.7 L580.0,340.0 L570.0,340.0 L570.0,348.0 L560.8,348.0 L560.8,340.0 L555.0,340.0 L555.0,331.0 L549.2,331.0 L549.2,340.0 L535.8,340.0 L535.8,331.0 L520.8,331.0 L520.8,340.0 L514.2,340.0 L514.2,331.0 L491.7,331.0 L491.7,340.0 L489.0,340.0 L489.0,349.0 L476.3,349.0 L476.3,358.0 L457.7,358.0 L457.7,367.0 L448.3,367.0 L448.3,376.0 L445.0,376.0 L445.0,367.0 L441.7,367.0 L441.7,376.0 L383.0,376.0 L383.0,385.0 L380.3,385.0 L380.3,376.0 L377.0,376.0 L377.0,385.0 L335.0,385.0 L335.0,376.0 L332.5,376.0 L332.5,385.0 L316.7,385.0 L316.7,376.0 L306.7,376.0 L306.7,385.0 L290.8,385.0 L290.8,376.0 L283.3,376.0 L283.3,385.0 L275.8,385.0 L275.8,376.0 L272.5,376.0 L272.5,385.0 L260.8,385.0 L260.8,376.0 L239.2,376.0 L239.2,385.0 L234.0,385.0 L234.0,376.0 L228.0,376.0 L228.0,385.0 L196.7,385.0 L196.7,376.0 L189.3,376.0 L189.3,385.0 L186.0,385.0 L186.0,376.0 L183.4,376.0 L183.4,385.0 L176.0,385.0 L176.0,376.0 L172.7,376.0 L172.7,367.0 L167.7,367.0 L167.7,376.0 L161.0,376.0 L161.0,367.0 L156.9,367.0 L156.9,376.0 L150.3,376.0 L150.3,367.0 L146.1,367.0 L146.1,376.0 L131.2,376.0 L131.2,367.0 L118.8,367.0 L118.8,376.0 L116.3,376.0 L116.3,367.0 L109.7,367.0 L109.7,358.0 L108.0,358.0 L108.0,367.0 L104.7,367.0 L104.7,358.0 L101.4,358.0 L101.4,367.0 L93.9,367.0 L93.9,358.0 L64.0,358.0 L64.0,367.0 L59.0,367.0Z" fill="#FFAAAA"/>
<rect x="407.5" y="176" width="2.0" height="82.0" fill="#5555FF"/>
<rect x="961" y="194" width="3.0" height="74.0" fill="#5555FF"/>
<rect x="59" y="100" width="1.5" height="9.0" fill="#0000AA"/>
<rect x="103.3" y="167" width="1.7" height="6.0" fill="#0000AA"/>
<rect x="125" y="167" width="3.3" height="6.0" fill="#0000AA"/>
<rect x="154.2" y="176" width="1.6" height="6.0" fill="#0000AA"/>
<rect x="169.2" y="176" width="4.1" height="6.0" fill="#0000AA"/>
<rect x="193.3" y="176" width="4.2" height="6.0" fill="#0000AA"/>
<rect x="221.7" y="185" width="3.3" height="6.0" fill="#0000AA"/>
<rect x="238.3" y="185" width="4.2" height="6.0" fill="#0000AA"/>
<rect x="261.7" y="185" width="3.3" height="6.0" fill="#0000AA"/>
<rect x="295.8" y="185" width="3.4" height="6.0" fill="#0000AA"/>
<rect x="331.7" y="185" width="5.0" height="6.0" fill="#0000AA"/>
<rect x="355" y="194" width="4.2" height="8.0" fill="#0000AA"/>
<rect x="376.7" y="194" width="3.3" height="8.0" fill="#0000AA"/>
<rect x="399.2" y="194" width="2.5" height="8.0" fill="#0000AA"/>
<rect x="507" y="130" width="3.0" height="9.0" fill="#0000AA"/>
<rect x="500" y="139" width="2.5" height="9.0" fill="#0000AA"/>
<rect x="79.2" y="203" width="3.3" height="5.5" fill="#55FFFF"/>
<rect x="97.5" y="203" width="5.0" height="5.5" fill="#55FFFF"/>
<rect x="106.7" y="203" width="8.3" height="5.5" fill="#55FFFF"/>
<rect x="496.7" y="139" width="3.3" height="7.0" fill="#55FFFF"/>
<rect x="502.5" y="139" width="4.2" height="6.0" fill="#55FFFF"/>
<rect x="666.7" y="203" width="2.5" height="6.0" fill="#55FFFF"/>
<line x1="977.3" y1="127" x2="977.3" y2="300" stroke="#505050" stroke-width="1" opacity="0.3"/>
<line x1="977.3" y1="300" x2="977.3" y2="393" stroke="#505050" stroke-width="1" opacity="0.6"/>
<line x1="59.3" y1="230" x2="59.3" y2="290" stroke="#888" stroke-width="1" opacity="0.6"/>
<line x1="34.5" y1="10" x2="34.5" y2="409" stroke="#000" stroke-width="1.5"/>
<line x1="38" y1="412.5" x2="1196" y2="412.5" stroke="#000" stroke-width="1.5"/>
<line x1="32" y1="73.5" x2="34" y2="73.5" stroke="#555" stroke-width="1"/>
<text class="yl" x="10.3" y="79.8">24</text>
<line x1="32" y1="165.5" x2="34" y2="165.5" stroke="#555" stroke-width="1"/>
<text class="yl" x="10.3" y="171.8">23</text>
<line x1="32" y1="256.5" x2="34" y2="256.5" stroke="#555" stroke-width="1"/>
<text class="yl" x="10.3" y="262.8">22</text>
<line x1="32" y1="347.5" x2="34" y2="347.5" stroke="#555" stroke-width="1"/>
<text class="yl" x="10.3" y="353.8">21</text>
<line x1="83.7" y1="413" x2="83.7" y2="415.5" stroke="#777" stroke-width="1"/>
<line x1="153.2" y1="413" x2="153.2" y2="415.5" stroke="#777" stroke-width="1"/>
<line x1="222.7" y1="413" x2="222.7" y2="415.5" stroke="#777" stroke-width="1"/>
<line x1="292.2" y1="413" x2="292.2" y2="415.5" stroke="#777" stroke-width="1"/>
<line x1="361.7" y1="413" x2="361.7" y2="415.5" stroke="#777" stroke-width="1"/>
<line x1="431.2" y1="413" x2="431.2" y2="415.5" stroke="#777" stroke-width="1"/>
<line x1="500.7" y1="413" x2="500.7" y2="415.5" stroke="#777" stroke-width="1"/>
<line x1="570.2" y1="413" x2="570.2" y2="415.5" stroke="#777" stroke-width="1"/>
<line x1="639.7" y1="413" x2="639.7" y2="415.5" stroke="#777" stroke-width="1"/>
<line x1="709.2" y1="413" x2="709.2" y2="415.5" stroke="#777" stroke-width="1"/>
<line x1="778.7" y1="413" x2="778.7" y2="415.5" stroke="#777" stroke-width="1"/>
<line x1="848.2" y1="413" x2="848.2" y2="415.5" stroke="#777" stroke-width="1"/>
<line x1="917.7" y1="413" x2="917.7" y2="415.5" stroke="#777" stroke-width="1"/>
<line x1="987.2" y1="413" x2="987.2" y2="415.5" stroke="#777" stroke-width="1"/>
<line x1="1056.7" y1="413" x2="1056.7" y2="415.5" stroke="#777" stroke-width="1"/>
<line x1="1126.2" y1="413" x2="1126.2" y2="415.5" stroke="#777" stroke-width="1"/>
<rect x="93.5" y="566.5" width="1020.5" height="31.5" fill="none" stroke="#000" stroke-width="1.2"/>
<rect x="95.1" y="581" width="17" height="3" fill="#FF5555"/>
<text class="lg" x="115.6" y="590">T01</text>
<rect x="155.1" y="581" width="17" height="3" fill="#5555FF"/>
<text class="lg" x="175.6" y="590">T02</text>
<rect x="215.1" y="581" width="17" height="3" fill="#55FF55"/>
<text class="lg" x="235.6" y="590">T03</text>
<rect x="275.1" y="581" width="17" height="3" fill="#FFFF55"/>
<text class="lg" x="295.6" y="590">T04</text>
<rect x="335.1" y="581" width="17" height="3" fill="#FF55FF"/>
<text class="lg" x="355.6" y="590">T05</text>
<rect x="395.1" y="581" width="17" height="3" fill="#55FFFF"/>
<text class="lg" x="415.6" y="590">T06</text>
<rect x="455.1" y="581" width="17" height="3" fill="#FFAAAA"/>
<text class="lg" x="475.6" y="590">T07</text>
<rect x="515.1" y="581" width="17" height="3" fill="#808080"/>
<text class="lg" x="535.6" y="590">T08</text>
<rect x="575.1" y="581" width="17" height="3" fill="#AA0000"/>
<text class="lg" x="595.6" y="590">T09</text>
<rect x="635.1" y="581" width="17" height="3" fill="#0000AA"/>
<text class="lg" x="655.6" y="590">T10</text>
<rect x="695.1" y="581" width="17" height="3" fill="#00AA00"/>
<text class="lg" x="715.6" y="590">T11</text>
<rect x="755.1" y="581" width="17" height="3" fill="#AAAA00"/>
<text class="lg" x="775.6" y="590">T12</text>
<rect x="815.1" y="581" width="17" height="3" fill="#AA00AA"/>
<text class="lg" x="835.6" y="590">T13</text>
<rect x="875.1" y="581" width="17" height="3" fill="#00AAAA"/>
<text class="lg" x="895.6" y="590">T14</text>
<rect x="935.1" y="581" width="17" height="3" fill="#404040"/>
<text class="lg" x="955.6" y="590">T15</text>
<rect x="995.1" y="581" width="17" height="3" fill="#FF5555"/>
<text class="lg" x="1015.6" y="590">T16</text>
<rect x="1055.1" y="581" width="17" height="3" fill="#5555FF"/>
<text class="lg" x="1075.6" y="590">T17</text>
</svg>
<div class="xh" style="left:78.7px;top:560.6px">2025<span class="dd">-</span>08<span class="dd">-</span>14 18:00</div>
<div class="xh" style="left:148.2px;top:560.6px">2025<span class="dd">-</span>08<span class="dd">-</span>14 21:00</div>
<div class="xh" style="left:217.7px;top:560.6px">2025<span class="dd">-</span>08<span class="dd">-</span>15 00:00</div>
<div class="xh" style="left:287.2px;top:560.6px">2025<span class="dd">-</span>08<span class="dd">-</span>15 03:00</div>
<div class="xh" style="left:356.7px;top:560.6px">2025<span class="dd">-</span>08<span class="dd">-</span>15 06:00</div>
<div class="xh" style="left:426.2px;top:560.6px">2025<span class="dd">-</span>08<span class="dd">-</span>15 09:00</div>
<div class="xh" style="left:495.7px;top:560.6px">2025<span class="dd">-</span>08<span class="dd">-</span>15 12:00</div>
<div class="xh" style="left:565.2px;top:560.6px">2025<span class="dd">-</span>08<span class="dd">-</span>15 15:00</div>
<div class="xh" style="left:634.7px;top:560.6px">2025<span class="dd">-</span>08<span class="dd">-</span>15 18:00</div>
<div class="xh" style="left:704.2px;top:560.6px">2025<span class="dd">-</span>08<span class="dd">-</span>15 21:00</div>
<div class="xh" style="left:773.7px;top:560.6px">2025<span class="dd">-</span>08<span class="dd">-</span>16 00:00</div>
<div class="xh" style="left:843.2px;top:560.6px">2025<span class="dd">-</span>08<span class="dd">-</span>16 03:00</div>
<div class="xh" style="left:912.7px;top:560.6px">2025<span class="dd">-</span>08<span class="dd">-</span>16 06:00</div>
<div class="xh" style="left:982.2px;top:560.6px">2025<span class="dd">-</span>08<span class="dd">-</span>16 09:00</div>
<div class="xh" style="left:1051.7px;top:560.6px">2025<span class="dd">-</span>08<span class="dd">-</span>16 12:00</div>
<div class="xh" style="left:1121.2px;top:560.6px">2025<span class="dd">-</span>08<span class="dd">-</span>16 15:00</div>
</body></html>
